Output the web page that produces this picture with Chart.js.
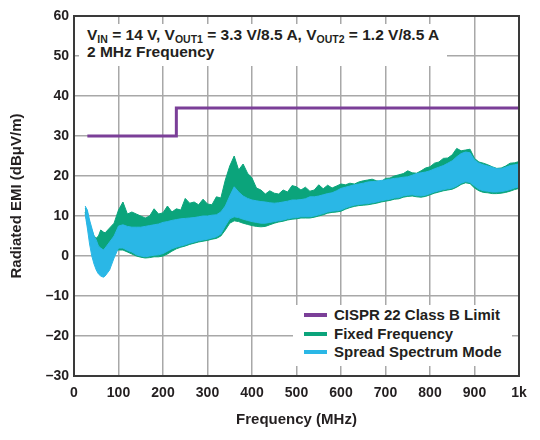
<!DOCTYPE html>
<html>
<head>
<meta charset="utf-8">
<script src="https://cdn.jsdelivr.net/npm/chart.js@4.4.1/dist/chart.umd.min.js"></script>
<style>
  html, body { margin: 0; padding: 0; background: #fff; }
  #wrap { position: relative; width: 540px; height: 440px; font-family: "Liberation Sans", Arial, sans-serif; color: #231f20; }
  #note {
    position: absolute; left: 79px; top: 24px; width: 368px; height: 42px;
    background: #fff; font-weight: bold; font-size: 15.5px; line-height: 17px;
    padding: 2px 0 0 8px; box-sizing: border-box; white-space: nowrap;
  }
  #note sub { font-size: 10.5px; vertical-align: -3px; line-height: 0; }
  #legend {
    position: absolute; left: 293px; top: 305px; width: 219px; height: 61px;
    background: #fff; font-weight: bold; font-size: 15px;
  }
  .item { position: absolute; left: 11px; height: 18px; line-height: 18px; white-space: nowrap; }
  .item span { display: inline-block; width: 23px; height: 4px; vertical-align: middle; margin-right: 7px; margin-top: -2px; }
</style>
</head>
<body>
<div id="wrap">
  <canvas id="chart" width="540" height="440"></canvas>
  <div id="note">V<sub>IN</sub> = 14 V, V<sub>OUT1</sub> = 3.3 V/8.5 A, V<sub>OUT2</sub> = 1.2 V/8.5 A<br>2 MHz Frequency</div>
  <div id="legend"></div>
</div>
<script>
// frequency points (MHz)
const freq = [25, 30, 35, 40, 45, 50, 55, 60, 66, 70,
  80, 90, 100, 110, 120, 130, 140, 150, 160, 170, 180, 190, 200,
  210, 220, 230, 240, 250, 260, 270, 280, 290, 300,
  310, 320, 330, 340, 350, 360, 370, 380, 390, 400,
  410, 420, 430, 440, 450, 460, 470, 480, 490, 500,
  510, 520, 530, 540, 550, 560, 570, 580, 590, 600,
  610, 620, 630, 640, 650, 660, 670, 680, 690, 700,
  710, 720, 730, 740, 750, 760, 770, 780, 790, 800,
  810, 820, 830, 840, 850, 860, 870, 880, 890, 900,
  910, 920, 930, 940, 950, 960, 970, 980, 990, 1000];

// fixed frequency envelope (dBuV/m)
const fixedUpper = [12, 11, 8, 6.5, 5, 4.5, 5, 6.5, 6, 5.8,
  7, 8.2, 11.5, 13.5, 10.5, 11, 10.5, 10, 9.5, 10, 11.8, 10.5, 10.8,
  12.5, 11, 11.8, 11.5, 14.4, 13.2, 13.5, 12.8, 14.2, 13,
  12.8, 14.8, 14.5, 19, 22.5, 25, 21.5, 23, 20.7, 19.5,
  17, 16.5, 15.5, 16.3, 15.7, 15.5, 16.5, 16, 17.6, 17.3,
  16.5, 17.2, 16.2, 16.5, 17.8, 16.8, 17.7, 17, 17.5, 18,
  17.8, 18.2, 18, 18.5, 18.8, 19, 19.2, 18.8, 18.6, 19.4,
  19.5, 20, 20.3, 20.6, 21.3, 20.8, 20.7, 21.3, 22, 22.3,
  23.2, 23.5, 24.4, 24.5, 25.3, 26.9, 26.3, 26.5, 26.7, 24.4,
  23.5, 23.2, 22.8, 22.3, 21.9, 22, 22.5, 23.2, 23.3, 23.6];
const fixedLower = [11, 8, 5, 3, 2, 1.5, 1, 1, 1, 1.2,
  1.5, 1.5, 1.5, 1.5, 1, 0.5, 0, -0.3, -0.5, -0.4, -0.2, -0.2, 0,
  0.5, 1.2, 1.8, 2.2, 2.5, 2.9, 3.2, 3.5, 3.7, 3.9,
  4.2, 4.4, 5, 6.5, 8.2, 8.8, 8.6, 8.2, 7.9, 7.6,
  7.4, 7.3, 7.4, 7.8, 8.2, 8.5, 8.7, 9, 9.2, 9.3,
  9.5, 9.5, 9.5, 9.7, 10, 10.3, 10.7, 10.9, 11, 11.2,
  11.7, 12.1, 12.4, 12.6, 12.7, 12.8, 13, 13.2, 13.5, 13.7,
  13.9, 14.2, 14.3, 14.7, 14.9, 15, 14.8, 14.7, 14.9, 15.3,
  15.7, 16, 16.3, 16.5, 16.7, 17.2, 17.9, 18.3, 18.1, 17,
  16.3, 15.9, 15.8, 15.6, 15.6, 15.7, 15.9, 16.2, 16.6, 16.9];

// spread spectrum envelope (dBuV/m)
const spreadUpper = [12.5, 11.5, 9, 7, 5, 4, 2.5, 2, 1.5, 2,
  3.5, 5, 7.5, 7.8, 7.4, 7.2, 7.2, 7.2, 7.4, 7.6, 7.8, 8, 8.4,
  8.6, 8.9, 9.1, 9.3, 9.4, 9.5, 9.6, 9.8, 10, 10,
  10.2, 10.3, 11, 12.5, 15, 17.3, 16, 15, 14.4, 14,
  13.8, 13.6, 13.5, 13.3, 13.2, 13.3, 13.5, 13.7, 14, 14,
  14.1, 14.3, 14.8, 14.8, 15, 15.3, 15.6, 15.8, 16.3, 16.9,
  17.2, 17.5, 17.8, 18, 18.2, 18.5, 18.6, 18.7, 18.9, 19,
  19.2, 19.4, 19.5, 19.7, 19.8, 20.2, 20.6, 20.8, 21, 21.3,
  21.8, 22.2, 22.6, 23.2, 23.8, 24.8, 25.6, 26, 25.8, 24,
  23.2, 22.8, 22.5, 22.2, 21.8, 21.8, 22.2, 22.6, 22.8, 23];
const spreadLower = [10.5, 7, 3, 0, -2, -3.5, -4.5, -5, -5.3, -5,
  -3.5, -0.5, 2, 2, 1.4, 1, 0.3, 0, -0.2, 0, 0.2, 0.3, 0.6,
  1.2, 1.8, 2.2, 2.5, 2.8, 3.2, 3.5, 3.8, 4, 4.2,
  4.5, 4.8, 5.5, 7.5, 9.3, 9.8, 9.6, 9.2, 8.9, 8.6,
  8.4, 8.2, 8.2, 8.4, 8.6, 8.8, 9, 9.3, 9.5, 9.6,
  9.8, 9.8, 9.8, 10, 10.3, 10.6, 11, 11.2, 11.3, 11.5,
  12, 12.4, 12.7, 12.9, 13, 13.1, 13.3, 13.5, 13.8, 14,
  14.2, 14.5, 14.6, 15, 15.2, 15.3, 15.1, 15, 15.2, 15.6,
  16, 16.3, 16.6, 16.8, 17, 17.5, 18.2, 18.6, 18.4, 17.5,
  16.7, 16.3, 16.2, 16, 16, 16.1, 16.3, 16.6, 17, 17.3];

// CISPR 22 class B limit
const limitFreq = [30, 230, 1000];
const limitLevel = [30, 37, 37];

const seriesNames = ['CISPR 22 Class B Limit', 'Fixed Frequency', 'Spread Spectrum Mode'];
const seriesColors = ['#7b3f98', '#0ba47b', '#2ab7e6'];

const textColor = '#231f20';

function pts(xs, ys) {
  return xs.map((x, i) => ({ x: x, y: ys[i] }));
}

// legend in the lower right corner
const $legend = document.getElementById('legend');
seriesNames.forEach((name, i) => {
  const row = document.createElement('div');
  row.className = 'item';
  row.style.top = (1 + i * 18.5) + 'px';
  row.innerHTML = '<span style="background:' + seriesColors[i] + '"></span>' + name;
  $legend.appendChild(row);
});

// box round the plot area
const frame = {
  id: 'frame',
  afterDraw(chart) {
    const a = chart.chartArea;
    const ctx = chart.ctx;
    ctx.save();
    ctx.strokeStyle = '#3a3a3a';
    ctx.lineWidth = 2;
    ctx.strokeRect(a.left, a.top, a.right - a.left, a.bottom - a.top);
    ctx.restore();
  }
};

const ctx = document.getElementById('chart').getContext('2d');
new Chart(ctx, {
  type: 'line',
  data: {
    datasets: [
      {
        label: seriesNames[0],
        data: pts(limitFreq, limitLevel),
        borderColor: seriesColors[0],
        borderWidth: 3,
        stepped: 'before',
        pointRadius: 0,
        fill: false,
        order: 0
      },
      {
        label: 'fixed low',
        data: pts(freq, fixedLower),
        borderColor: seriesColors[1],
        borderWidth: 1,
        pointRadius: 0,
        fill: false,
        order: 2
      },
      {
        label: seriesNames[1],
        data: pts(freq, fixedUpper),
        borderColor: seriesColors[1],
        backgroundColor: seriesColors[1],
        borderWidth: 1,
        pointRadius: 0,
        fill: 1,
        order: 2
      },
      {
        label: 'spread low',
        data: pts(freq, spreadLower),
        borderColor: seriesColors[2],
        borderWidth: 1,
        pointRadius: 0,
        fill: false,
        order: 1
      },
      {
        label: seriesNames[2],
        data: pts(freq, spreadUpper),
        borderColor: seriesColors[2],
        backgroundColor: seriesColors[2],
        borderWidth: 1,
        pointRadius: 0,
        fill: 3,
        order: 1
      }
    ]
  },
  options: {
    responsive: false,
    animation: false,
    events: [],
    layout: { padding: { left: 0, right: 21, top: 16, bottom: 8 } },
    plugins: {
      legend: { display: false },
      tooltip: { enabled: false }
    },
    scales: {
      x: {
        type: 'linear',
        min: 0,
        max: 1000,
        afterFit: (s) => { s.height = 56; },
        ticks: {
          stepSize: 100,
          color: textColor,
          padding: 9,
          maxRotation: 0,
          font: { family: 'Liberation Sans', size: 14, weight: 'bold' },
          callback: (v) => v === 1000 ? '1k' : v
        },
        grid: { color: '#a8a8a8', lineWidth: 1.5, drawTicks: false },
        border: { color: '#3a3a3a', width: 2 },
        title: {
          display: true,
          text: 'Frequency (MHz)',
          color: textColor,
          padding: { top: 4, bottom: 3 },
          font: { family: 'Liberation Sans', size: 15, weight: 'bold' }
        }
      },
      y: {
        min: -30,
        max: 60,
        afterFit: (s) => { s.width = 74; },
        ticks: {
          stepSize: 10,
          color: textColor,
          padding: 5,
          font: { family: 'Liberation Sans', size: 14, weight: 'bold' },
          callback: (v) => v < 0 ? '\u2013' + Math.abs(v) : String(v)
        },
        grid: { color: '#a8a8a8', lineWidth: 1.5, drawTicks: false },
        border: { color: '#3a3a3a', width: 2 },
        title: {
          display: true,
          text: 'Radiated EMI (dBμV/m)',
          color: textColor,
          padding: { top: 8, bottom: 4 },
          font: { family: 'Liberation Sans', size: 15, weight: 'bold' }
        }
      }
    }
  },
  plugins: [frame]
});
</script>
</body>
</html>
